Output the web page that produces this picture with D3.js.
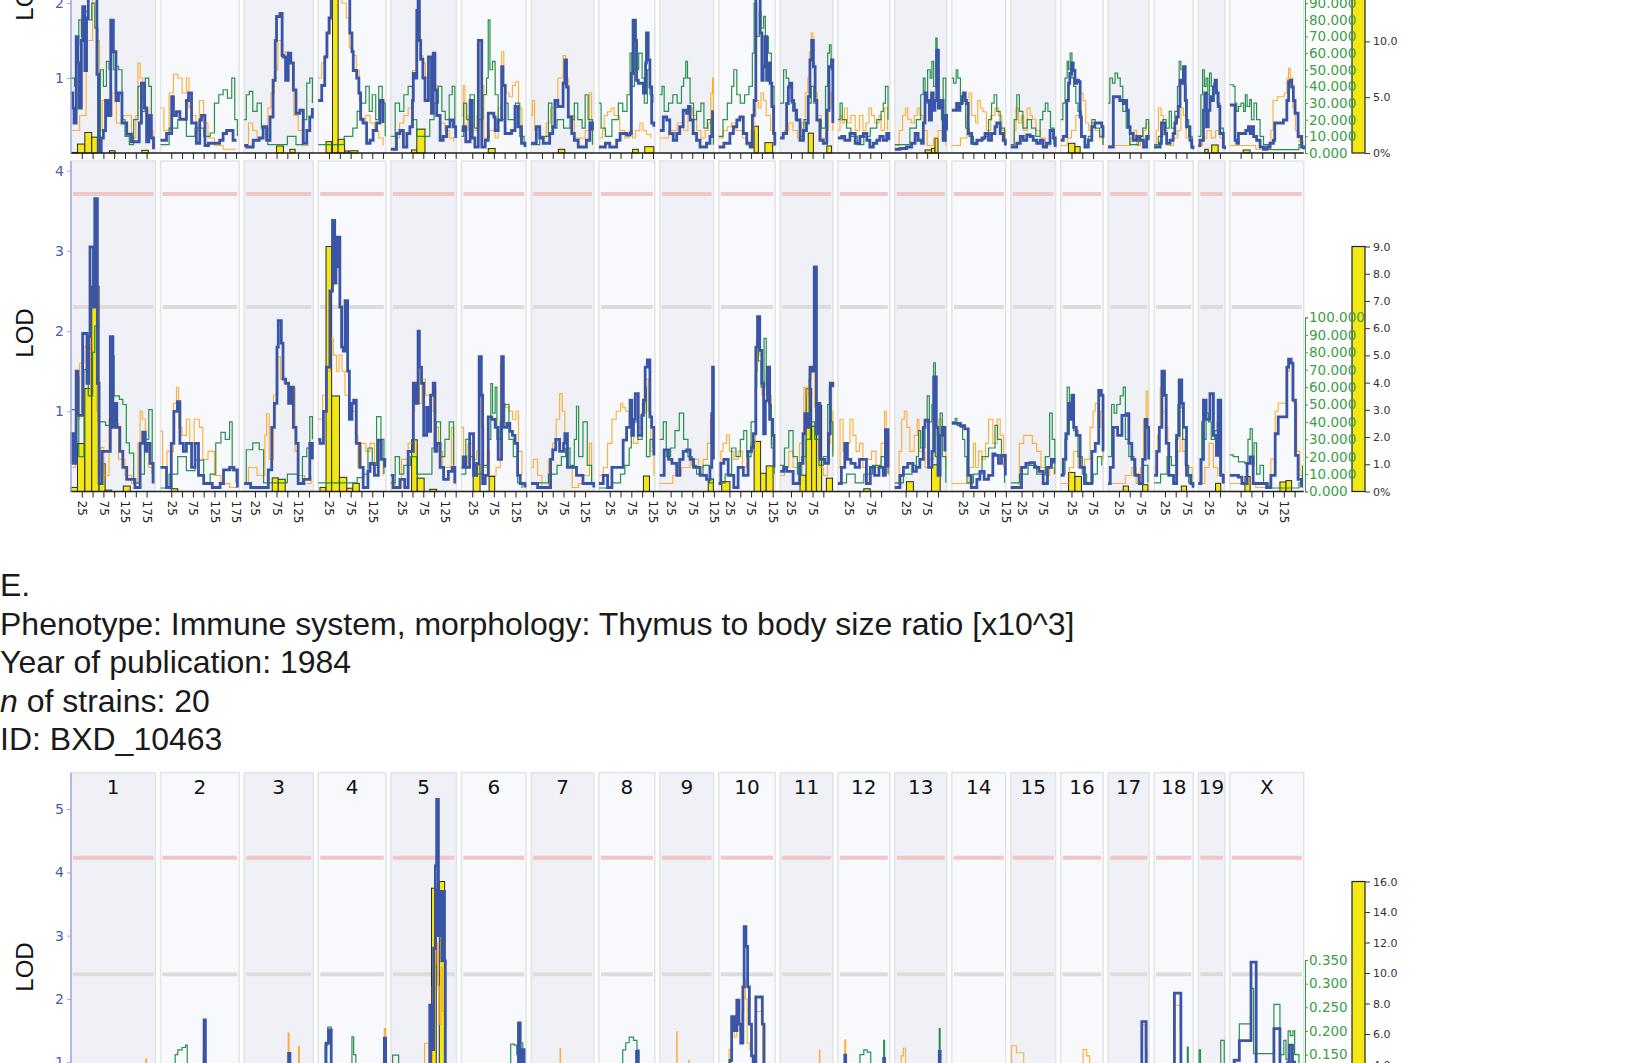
<!doctype html>
<html>
<head>
<meta charset="utf-8">
<script src="https://d3js.org/d3.v7.min.js"></script>
<style>
body { margin: 0; background: #fff; overflow: hidden; }
svg { display: block; }
</style>
</head>
<body>
<svg></svg>
<script>

const chromosomes = ["1","2","3","4","5","6","7","8","9","10","11","12","13","14","15","16","17","18","19","X"];
const chrLengths = [195.5,182.1,160.0,156.5,151.8,149.7,145.4,129.4,124.6,130.7,122.1,120.1,120.4,124.9,104.0,98.2,94.9,90.7,61.4,171.0];

const infoLines = [
	[["E.", false]],
	[["Phenotype: Immune system, morphology: Thymus to body size ratio [x10^3]", false]],
	[["Year of publication: 1984", false]],
	[["n", true], [" of strains: 20", false]],
	[["ID: BXD_10463", false]]
];

// ticks (the top panel is cut by the page edge, so only its visible ticks are listed)
const p1LodTicks = [1,2];
const p2LodTicks = [1,2,3,4];
const p3LodTicks = [1,2,3,4,5];
const p1GreenTicks = [0,10,20,30,40,50,60,70,80,90];
const p2GreenTicks = [0,10,20,30,40,50,60,70,80,90,100];
const p3GreenTicks = [0,0.05,0.1,0.15,0.2,0.25,0.3,0.35];
const p1BarTicks = [0,5,10];
const p2BarTicks = [0,1,2,3,4,5,6,7,8,9];
const p3BarTicks = [0,2,4,6,8,10,12,14,16];

// [significant, suggestive] LOD thresholds
const p1Thresholds = [3.6, 2.25];
const p2Thresholds = [3.71, 2.3];
const p3Thresholds = [4.23, 2.39];

// series: one flat list per chromosome, alternating Mb position and value
const p1Blue = [
	[0,0.8,4,0.6,7,0.4,12,1.55,16,1.2,19,0.6,24,1.5,27,1.95,32,1.1,36,1.8,40,2.3,50,2.4,56,2.2,60,1.05,64,0.02,70,0.2,75,0.3,80,0.7,86,0.5,92,1.77,98,1.35,104,0.7,110,0.8,118,0.4,129,0.25,140,0.15,152,0.15,158,0.4,163,0.93,170,0.6,175,0.15,180,0.5,186,0.2,191,0.05],
	[0,0.17,7,0.17,14,0.26,26,0.75,30,0.5,37,0.55,45,0.45,60,0.7,65,0.8,72,0.4,83,0.13,91,0.44,95,0.5,103,0.1,111,0.13,122,0.13,137,0.17,145,0.26,153,0.3,168,0.17,176,0.17],
	[0,0.1,6,0.08,21,0.17,35,0.2,44,0.35,52,0.17,60,0.48,67,0.97,72,1.5,75,1.82,83,1.86,88,1.3,91,1.28,96,0.97,102,1.33,108,1.2,114,0.84,120,0.53,129,0.57,137,0.13,145,0.3,152,0.48,158,0.6],
	[0,0.7,4,0.7,8,0.9,15,1.28,20,1.6,25,1.8,30,2.5,40,2.8,50,2.6,60,2.4,68,2.2,73,1.6,78,1.35,81,1.1,89,1.0,94,0.8,98,0.45,104,0.4,112,0.13,120,0.17,127,0.3,135,0.4,143,0.7,150,0.4],
	[0,0.05,6,0.05,13,0.26,21,0.3,29,0.08,37,0.26,44,0.35,50,0.7,52,1.06,56,1.0,60,1.9,63,2.1,66,1.5,69,1.25,74,1.0,79,0.7,87,1.28,94,0.53,98,1.33,102,0.84,106,0.5,114,0.17,121,0.22,129,0.35,137,0.44,145,0.35,150,0.2],
	[0,0.3,4,0.35,10,0.15,20,0.7,25,0.2,31,0.08,39,1.5,44,1.5,47,0.08,55,0.17,62,0.53,70,0.53,75,0.48,78,0.3,85,0.44,93,1.15,96,0.9,101,0.26,110,0.26,116,0.3,124,0.62,131,0.35,139,0.13,147,0.08],
	[0,0.13,5,0.13,12,0.35,20,0.2,28,0.13,43,0.26,50,0.35,55,0.7,62,0.62,67,0.62,74,0.93,78,1.24,82,0.88,86,0.48,94,0.26,100,0.17,109,0.08,120,0.08,128,0.17,136,0.4,142,0.3],
	[0,0.08,6,0.08,15,0.13,25,0.08,41,0.17,49,0.26,64,0.24,72,0.26,75,1.06,79,1.77,84,1.5,87,0.97,91,0.93,99,0.93,103,0.8,108,1.2,110,1.6,114,1.24,118,0.88,122,0.4,127,0.35],
	[0,0.3,8,0.48,16,0.44,23,0.26,31,0.17,39,0.26,46,0.35,54,0.57,62,0.53,66,0.62,70,0.44,77,0.26,85,0.17,93,0.08,108,0.13,116,0.22,122,0.57],
	[0,0.08,3,0.08,12,0.13,26,0.26,34,0.35,42,0.44,49,0.48,57,0.26,65,0.13,73,0.08,78,0.5,82,0.7,86,2.5,92,2.2,96,1.6,100,0.97,103,1.15,107,1.55,111,0.97,115,1.2,119,0.93,123,0.62,127,0.26,130,0.1],
	[0,0.2,7,0.26,15,0.66,19,0.88,23,0.93,27,0.7,31,0.57,38,0.44,46,0.17,54,0.3,61,0.4,65,0.75,69,1.24,73,1.5,77,1.15,81,0.7,85,0.44,92,0.17,100,0.13,108,0.57,113,1.15,119,1.24,122,0.4],
	[0,0.2,9,0.22,16,0.17,28,0.26,40,0.13,51,0.22,59,0.26,67,0.17,74,0.08,82,0.13,90,0.17,97,0.22,105,0.17,113,0.26,118,0.17],
	[0,0.05,12,0.06,27,0.08,39,0.13,47,0.26,54,0.17,62,0.13,66,0.4,70,0.8,74,0.7,80,0.44,85,0.8,89,0.57,93,0.7,97,1.37,101,0.6,105,0.7,112,0.17,117,0.5,120,0.3],
	[0,0.57,4,0.57,11,0.66,15,0.57,19,0.66,24,0.75,27,0.8,31,0.7,34,0.66,38,0.26,46,0.13,58,0.17,70,0.2,77,0.26,85,0.17,92,0.26,100,0.35,104,0.4,112,0.26,119,0.17,124,0.1],
	[0,0.08,6,0.08,14,0.13,22,0.22,29,0.17,37,0.24,45,0.22,52,0.17,60,0.13,68,0.17,75,0.08,83,0.13,91,0.3,99,0.2,103,0.08],
	[0,0.17,6,0.22,14,0.7,18,0.93,21,1.06,25,1.2,29,1.1,33,0.93,37,0.97,41,0.95,45,0.48,48,0.22,56,0.08,64,0.17,72,0.35,79,0.4,87,0.4,95,0.35,98,0.2],
	[0,0.08,4,0.08,12,0.75,20,0.75,27,0.7,35,0.66,39,0.7,43,0.57,47,0.35,51,0.26,58,0.17,66,0.22,74,0.17,82,0.08,89,0.22,93,0.17],
	[0,0.08,6,0.08,14,0.13,17,0.4,21,0.4,25,0.26,29,0.13,37,0.17,44,0.26,48,0.4,52,0.48,56,0.62,60,0.97,64,0.93,68,1.15,72,0.7,75,0.35,83,0.17,87,0.08,90,0.05],
	[0,0.1,4,0.17,12,0.57,15,0.8,19,0.35,23,0.57,27,0.75,31,0.7,35,0.88,39,0.97,42,0.8,46,0.62,50,0.26,58,0.08,61,0.05],
	[0,0.64,8,0.64,12,0.17,16,0.13,20,0.26,31,0.26,37,0.3,43,0.35,47,0.26,51,0.35,55,0.22,62,0.17,70,0.08,78,0.05,85,0.08,93,0.13,101,0.17,104,0.4,116,0.4,124,0.44,132,0.7,136,0.95,139,0.97,143,0.88,147,0.7,151,0.53,158,0.22,166,0.08,171,0.05]
];
const p1Orange = [
	[0,0.3,20,0.5,35,1.5,50,2.2,60,1.5,66,0.3,72,0.7,80,0.5,95,0.8,105,0.4,120,0.5,140,0.2,150,0.5,155,1.2,160,1.0,166,0.7,172,0.6,180,0.3,190,0.1],
	[0,0.6,8,0.3,20,0.8,30,1.05,40,1.0,50,0.8,60,1.0,66,0.6,74,0.5,82,0.3,90,0.7,100,0.4,110,0.2,125,0.1,145,0.05,175,0.05],
	[0,0.1,10,0.4,20,0.3,30,0.2,45,0.3,55,0.6,62,0.8,70,1.1,78,1.5,86,1.3,95,1.35,102,1.3,108,1.2,115,0.5,125,0.3,135,0.1,150,0.1],
	[0,1.0,8,1.2,15,1.3,22,1.6,28,2.1,40,2.3,55,2.0,65,1.8,72,1.4,80,1.3,88,1.1,95,0.7,100,0.4,110,0.5,120,0.4,130,0.3,140,0.2,150,0.1],
	[0,0.05,10,0.2,20,0.4,30,0.5,40,0.6,50,1.1,58,1.5,63,1.9,68,1.3,74,1.2,80,1.0,88,1.0,95,1.2,100,0.9,108,0.5,115,0.4,125,0.3,135,0.2,145,0.15],
	[0,0.5,4,0.9,8,0.3,15,0.5,25,0.3,36,0.5,40,1.5,46,0.9,52,0.2,65,0.3,78,0.2,85,0.6,93,1.35,98,0.9,104,0.8,110,0.75,118,0.9,125,0.95,132,0.6,140,0.2],
	[0,0.5,3,0.7,8,0.3,20,0.2,35,0.4,45,0.6,55,0.7,62,1.0,70,1.0,74,1.3,80,1.0,86,0.5,100,0.2,110,0.2,125,0.3,135,0.8,140,0.3],
	[0,0.2,8,0.3,12,0.5,20,0.55,28,0.6,35,0.5,48,0.3,60,0.2,70,0.3,78,0.2,85,0.3,95,0.4,102,0.3,110,0.25,120,0.2],
	[0,0.2,20,0.3,40,0.4,55,0.3,65,0.6,75,0.5,85,0.3,95,0.2,105,0.3,112,0.4,118,0.8,122,1.0,124,0.3],
	[0,0.2,10,0.3,20,0.35,30,0.4,40,0.3,55,0.2,65,0.1,75,0.3,82,0.5,86,0.7,92,0.6,98,0.8,104,0.7,110,0.5,120,0.3,128,0.1],
	[0,0.2,10,0.3,20,0.4,30,0.3,40,0.2,50,0.4,58,0.8,64,1.0,68,1.35,72,1.6,76,1.2,80,0.8,86,0.5,95,0.2,105,0.3,112,0.6,118,0.8,122,0.3],
	[0,0.3,5,0.5,10,0.4,15,0.6,22,0.4,30,0.5,40,0.3,50,0.5,58,0.3,65,0.4,72,0.6,78,0.5,85,0.4,95,0.5,100,0.3,108,0.6,115,0.3],
	[0,0.1,10,0.3,18,0.5,25,0.6,30,0.45,38,0.4,45,0.5,52,0.6,58,0.5,66,0.3,75,0.1,90,0.2,100,0.3,110,0.2,118,0.1],
	[0,0.1,20,0.2,35,0.5,40,0.8,46,0.5,55,0.4,60,0.7,66,0.6,72,0.55,80,0.3,90,0.5,100,0.6,108,0.5,116,0.3,124,0.1],
	[0,0.1,8,0.3,12,0.6,18,0.4,25,0.5,30,0.3,38,0.6,45,0.5,50,0.45,58,0.3,68,0.2,80,0.1,90,0.2,100,0.1],
	[0,0.1,15,0.2,25,0.3,35,0.5,45,0.8,52,0.7,58,0.4,65,0.3,72,0.4,80,0.3,90,0.2,98,0.1],
	[0,0.1,40,0.1,52,0.2,60,0.3,66,0.1,75,0.2,82,0.3,88,0.4,94,0.2],
	[0,0.1,5,0.3,10,0.6,16,0.5,22,0.3,30,0.1,45,0.2,55,0.3,62,0.6,68,0.5,74,0.2,85,0.1],
	[0,0.1,10,0.2,20,0.3,30,0.2,40,0.3,50,0.2,60,0.1],
	[0,0.1,40,0.1,60,0.05,85,0.05,95,0.3,100,0.7,110,0.75,118,0.75,126,0.8,132,1.0,136,1.13,140,1.0,146,0.6,152,0.3,160,0.15,170,0.05]
];
const p1Green = [
	[0,45,8,40,12,65,18,80,24,70,30,85,40,80,48,90,55,75,62,10,68,50,75,40,82,55,88,50,92,69,98,50,104,52,110,50,118,20,125,10,135,5,145,20,155,40,162,25,172,45,180,40,186,10],
	[0,5,20,15,40,20,60,10,80,15,100,10,115,12,125,30,135,35,145,38,155,33,165,45,172,20,178,10],
	[0,20,5,35,12,37,20,25,30,30,40,15,55,5,80,5,100,10,120,5,135,20,145,42,152,45,158,30],
	[0,5,30,5,60,10,80,15,90,25,100,30,110,40,118,25,125,35,133,20,140,40,148,30,155,10],
	[0,10,10,30,20,25,30,35,40,40,50,20,60,10,75,10,90,20,100,30,110,40,118,25,126,20,135,35,142,40,148,15],
	[0,10,5,30,12,20,20,35,30,15,40,20,50,35,58,45,62,80,66,50,72,55,78,35,85,20,92,20,100,30,108,20,116,20,125,30,135,10,145,5],
	[0,5,20,10,40,30,48,15,60,20,75,15,90,20,100,30,108,20,118,15,125,35,132,20,142,5],
	[0,30,5,15,15,10,30,20,45,30,55,25,65,35,72,60,76,40,82,80,86,50,92,60,100,45,105,30,112,50,118,35,125,30],
	[0,35,5,40,10,25,20,30,30,35,40,30,50,40,55,45,60,55,64,45,70,30,78,20,85,25,95,30,102,15,110,20,118,10,124,5],
	[0,10,10,20,20,30,30,40,35,50,42,35,50,30,60,35,70,40,78,60,82,90,88,70,94,85,98,75,104,82,108,70,115,60,122,40,128,20],
	[0,30,8,50,14,45,20,40,26,30,35,20,45,10,55,20,65,30,72,40,78,30,85,20,95,15,105,40,110,60,114,65,118,50,122,20],
	[0,20,5,30,10,20,20,15,30,10,45,5,60,10,75,15,90,20,100,25,105,30,110,40,116,20],
	[0,5,15,5,35,15,50,20,60,35,66,45,70,30,76,50,82,45,86,55,90,40,95,69,98,50,102,30,108,20,112,45,118,20],
	[0,45,4,42,10,50,14,45,20,30,26,35,32,15,40,10,50,5,60,8,75,10,85,20,92,30,98,35,104,25,112,15,122,5],
	[0,5,8,20,14,35,20,25,28,15,38,20,48,15,58,10,68,20,74,25,80,30,86,25,92,15,100,5],
	[0,20,5,30,10,45,15,55,18,50,22,60,26,45,30,40,35,30,40,25,48,10,56,5,64,10,72,20,80,15,90,10,98,5],
	[0,30,4,45,10,42,16,48,22,45,28,40,34,25,42,15,50,5,60,5,70,10,80,15,88,20,94,10],
	[0,5,10,10,20,20,28,15,35,25,40,15,48,25,54,40,58,55,62,50,66,45,70,40,74,20,80,10,88,5],
	[0,10,6,35,10,50,14,40,18,45,22,35,26,48,30,40,36,42,40,38,44,30,50,15,58,5],
	[0,41,8,40,12,30,16,25,20,28,26,30,32,25,36,35,40,28,46,32,50,20,56,30,62,20,70,10,78,5,90,2,160,5,168,10]
];
// bars: [chromosome, start Mb, end Mb, value]
const p1Bars = [
	["1",1,15,0.05],["1",15,32,0.8],["1",32,48,1.84],["1",48,61,1.42],["1",89,102,0.2],["1",164,179,0.24],
	["3",75,91,0.63],["3",106,118,0.33],
	["4",18,31,1.02],["4",33,46,16],["4",46,61,1.23],["4",61,70,0.18],["4",73,92,0.2],
	["5",48,60,0.27],["5",60,79,2.14],
	["6",62,78,0.4],["7",63,78,0.33],["8",78,91,0.33],["8",106,127,0.57],
	["10",82,92,2.4],["10",107,125,0.93],
	["11",65,77,1.78],["11",108,119,0.63],
	["13",70,85,0.27],["13",85,93,0.42],["13",93,100,1.33],
	["16",18,33,0.87],["16",33,45,0.57],
	["19",15,23,0.33],["19",31,46,0.72],
	["X",31,47,0.27]
];

const p2Blue = [
	[0,0.35,1.5,0.72,8,0.35,12,1.5,16,0.95,27,1.97,37,1.35,41,1.93,44,3.05,52,2.3,55,3.65,61,1.35,65,0.1,72,0.5,80,0.5,91,1.93,97,0.8,102,1.1,106,0.8,113,0.5,120,0.3,129,0.15,148,0.05,160,0.6,166,0.74,172,0.5,176,0.6,183,0.35,190,0.1],
	[0,0.3,7,0.3,14,0.05,25,0.6,31,1.0,39,1.12,45,0.6,53,0.5,60,0.6,72,0.3,80,0.6,88,0.2,100,0.1,120,0.05,138,0.1,146,0.27,160,0.3,170,0.27,178,0.05],
	[0,0.1,15,0.05,50,0.05,56,0.27,64,0.8,70,1.1,76,1.8,79,2.13,86,1.85,90,1.4,96,1.35,103,1.1,108,1.3,114,0.8,120,0.6,125,0.1,138,0.15,152,0.6,158,0.4],
	[0,0.65,4,0.6,12,1.0,19,1.55,27,2.5,33,3.38,38,2.6,41,2.8,44,3.17,50,2.3,54,1.8,58,1.75,62,2.38,68,1.5,72,0.9,78,1.1,82,1.14,88,0.6,96,0.3,104,0.05,115,0.25,120,0.35,130,0.2,139,0.64,146,0.4,154,0.3],
	[0,0.2,5,0.05,21,0.15,32,0.05,40,0.5,48,0.5,52,1.35,58,1.1,63,2.0,66,1.55,71,1.35,76,0.7,83,1.05,88,0.75,92,1.2,98,1.35,102,0.5,106,0.6,114,0.3,122,0.15,133,0.25,142,0.3,148,0.1],
	[0,0.3,4,0.43,10,0.3,19,0.72,28,0.2,35,0.35,41,1.68,46,1.2,49,0.1,55,0.2,62,0.93,70,0.9,78,0.8,85,0.4,93,1.68,97,0.8,105,0.85,112,0.75,118,0.7,124,0.6,130,0.2,136,0.1,147,0.05],
	[0,0.1,15,0.05,30,0.05,45,0.4,50,0.52,57,0.65,66,0.5,75,0.6,78,0.72,84,0.3,95,0.3,105,0.2,120,0.1,135,0.1,145,0.05],
	[0,0.1,10,0.2,20,0.05,30,0.3,45,0.3,56,0.64,64,0.8,72,1.14,76,0.7,80,0.9,84,1.22,91,0.7,99,0.95,103,1.14,107,1.55,112,1.64,118,0.93,122,0.8,127,0.45],
	[0,0.2,10,0.52,20,0.4,28,0.35,39,0.2,46,0.4,54,0.5,62,0.52,70,0.4,78,0.3,93,0.2,108,0.15,116,0.3,120,0.97,122,1.55,124,0.4],
	[0,0.1,5,0.35,12,0.4,22,0.2,35,0.05,45,0.3,57,0.2,68,0.5,76,0.55,80,0.72,86,1.8,90,2.18,95,1.76,100,1.35,104,0.72,108,1.13,113,1.55,118,0.9,125,0.7,128,0.3],
	[0,0.25,8,0.3,15,0.25,30,0.1,45,0.35,53,0.72,57,0.97,63,0.8,69,1.55,73,1.5,79,2.8,84,0.72,88,1.1,92,0.4,104,0.35,112,0.72,116,1.35,122,1.3],
	[0,0.1,8,0.3,16,0.6,22,0.4,30,0.35,40,0.3,50,0.4,55,0.4,66,0.1,75,0.3,85,0.2,95,0.3,105,0.2,110,0.77,116,0.3],
	[0,0.05,12,0.2,20,0.3,30,0.35,42,0.25,50,0.3,58,0.4,66,0.8,70,0.89,78,0.3,86,0.5,90,1.43,96,0.8,100,0.2,105,0.7,110,0.8,116,0.5],
	[0,0.85,10,0.85,20,0.82,30,0.78,38,0.2,45,0.05,58,0.15,65,0.25,75,0.15,85,0.2,95,0.47,100,0.45,108,0.35,115,0.45,124,0.2],
	[0,0.05,15,0.05,25,0.3,35,0.35,45,0.36,55,0.3,65,0.25,75,0.1,85,0.3,94,0.4,100,0.35],
	[0,0.2,6,0.4,12,0.72,18,1.1,22,0.9,26,1.2,30,0.8,36,0.7,45,0.3,55,0.1,65,0.1,72,0.5,80,0.6,88,1.26,94,1.2,98,0.5],
	[0,0.1,5,0.3,12,0.8,22,0.7,32,0.95,42,0.97,48,0.6,55,0.4,62,0.2,72,0.1,80,0.4,86,0.9,90,0.8,94,0.4],
	[0,0.2,6,0.5,12,0.8,18,1.5,24,1.2,28,0.6,34,0.2,45,0.1,52,0.7,58,1.39,64,1.1,68,0.8,75,0.2,85,0.1,90,0.05],
	[0,0.1,6,0.4,12,1.14,18,0.9,27,1.22,35,0.7,42,0.45,46,1.14,52,0.2,58,0.1],
	[0,0.2,10,0.2,20,0.18,28,0.1,40,0.35,47,0.43,54,0.1,70,0.1,85,0.05,95,0.2,105,0.72,112,0.93,125,0.93,132,1.55,136,1.65,142,1.6,146,1.14,152,0.45,158,0.15,166,0.05]
];
const p2Orange = [
	[0,0.3,10,0.9,20,1.6,30,1.8,40,1.2,45,2.3,55,2.5,60,1.0,66,0.2,70,0.55,76,0.2,88,0.9,95,1.1,100,0.85,110,0.4,125,0.2,140,0.1,155,0.6,160,1.0,165,0.9,172,0.6,180,0.3,190,0.1],
	[0,0.75,5,0.3,15,0.5,30,1.1,37,1.3,42,0.8,50,0.7,60,0.9,68,0.6,78,0.9,90,0.8,98,0.4,110,0.5,125,0.2,140,0.1,160,0.05,178,0.05],
	[0,0.1,10,0.3,30,0.2,48,0.7,52,0.97,58,0.4,68,1.2,78,1.68,84,1.4,92,1.35,100,1.3,110,1.3,118,0.5,125,0.2,140,0.1,155,0.2],
	[0,0.9,10,1.2,20,1.5,28,1.9,35,1.7,42,1.5,48,1.7,55,1.5,62,1.2,70,1.1,80,1.0,86,0.7,92,0.3,100,0.6,110,0.5,120,0.6,130,0.3,140,0.4,150,0.2],
	[0,0.1,10,0.05,25,0.4,40,0.6,50,1.0,55,1.3,62,1.75,66,1.1,72,1.4,80,1.2,90,1.0,98,1.3,104,0.8,110,0.5,120,0.3,130,0.3,140,0.8,146,0.3],
	[0,0.8,5,0.3,15,0.6,25,0.4,35,0.5,41,1.6,46,0.8,52,0.3,60,0.5,65,0.2,80,0.3,90,1.6,95,1.1,102,1.05,110,1.0,118,0.9,126,1.0,132,0.5,140,0.2],
	[0,0.3,5,0.4,15,0.2,25,0.05,40,0.4,50,0.6,58,0.9,66,1.22,72,1.0,78,0.7,85,0.3,95,0.05,110,0.1,120,0.2,135,0.6,140,0.1],
	[0,0.2,10,0.3,20,0.6,30,0.9,40,1.0,50,1.1,55,1.05,62,1.0,70,0.8,80,0.6,90,0.8,100,1.1,108,1.4,114,1.0,120,0.5,127,0.2],
	[0,0.1,15,0.1,30,0.2,50,0.3,70,0.4,90,0.3,100,0.4,110,0.6,117,0.9,120,1.0,124,0.5],
	[0,0.2,5,0.5,10,0.6,18,0.7,25,0.5,35,0.4,45,0.5,55,0.3,65,0.5,75,0.6,85,1.5,90,1.9,95,1.7,100,1.2,105,1.2,110,1.5,115,1.2,122,0.6,128,0.2],
	[0,0.2,10,0.3,20,0.5,30,0.3,45,0.6,55,1.3,62,1.2,66,1.4,72,1.5,78,1.5,80,1.05,86,1.1,92,0.3,100,0.2,110,0.6,116,1.0,122,0.5],
	[0,0.3,5,0.9,12,0.5,20,0.6,28,0.9,35,0.7,42,0.5,50,0.6,58,0.3,66,0.4,78,0.5,88,0.3,100,0.6,108,1.0,112,0.7,118,0.2],
	[0,0.1,10,0.5,16,0.9,22,1.0,28,0.8,35,0.5,45,0.7,52,0.9,56,0.5,70,0.3,80,0.4,90,0.8,96,0.7,102,0.9,110,0.8,118,0.3],
	[0,0.1,30,0.1,40,0.3,50,0.6,55,0.3,62,0.5,70,0.4,78,0.6,85,0.9,95,0.6,105,0.9,112,0.7,120,0.3],
	[0,0.05,20,0.6,30,0.7,40,0.7,50,0.6,60,0.5,70,0.3,80,0.2,90,0.3,100,0.2],
	[0,0.1,20,0.3,30,0.5,40,0.3,55,0.4,68,0.8,75,1.0,80,1.1,86,0.8,92,1.0,98,0.4],
	[0,0.1,40,0.2,55,0.3,65,0.1,75,0.3,82,0.9,88,1.25,92,0.5],
	[0,0.3,8,0.7,14,1.3,18,1.0,26,0.8,32,0.2,45,0.2,55,0.5,60,1.0,66,0.5,75,0.3,88,0.1],
	[0,0.1,15,0.3,25,0.6,35,0.3,45,0.2,55,0.1],
	[0,0.1,40,0.1,60,0.05,80,0.05,95,0.4,105,1.0,112,1.1,125,1.1,132,1.5,138,1.6,148,1.1,155,0.5,162,0.2,168,0.05]
];
const p2Green = [
	[0,47,12,66,18,20,30,70,40,55,50,80,55,95,63,40,72,40,80,38,91,78,100,55,112,53,120,50,128,28,135,22,145,5,160,10,170,30,180,47,188,10],
	[0,2,20,10,40,20,60,12,80,18,100,5,115,10,128,28,140,34,150,30,160,40,166,12,175,5],
	[0,5,5,24,20,28,35,24,45,5,70,5,100,10,125,5,135,20,145,25,152,43,158,30],
	[0,5,40,5,90,8,105,10,115,25,125,15,135,43,145,30,152,10],
	[0,5,10,20,20,10,30,15,45,20,60,10,80,10,95,25,105,40,115,20,125,30,135,40,145,15],
	[0,10,10,30,20,20,30,10,50,15,62,30,68,62,72,45,78,60,82,30,90,40,100,50,110,30,120,20,130,5,140,2],
	[0,5,20,5,40,10,60,15,70,20,80,25,90,15,100,30,105,49,110,20,120,40,130,15,140,5],
	[0,2,30,5,50,10,60,15,70,25,75,35,80,40,90,30,100,45,106,60,110,20,118,30,125,25],
	[0,30,8,40,15,20,25,25,35,35,45,45,55,30,65,20,75,15,85,10,100,15,115,5,124,2],
	[0,5,15,10,30,25,40,20,50,30,58,35,65,20,75,40,85,60,88,88,92,75,98,60,105,88,110,60,116,50,122,25,128,10],
	[0,15,10,25,20,35,30,20,40,10,50,20,60,30,70,40,80,30,90,15,100,20,110,50,114,60,118,40,122,20],
	[0,5,20,10,40,5,60,10,80,15,100,20,110,30,116,10],
	[0,5,20,10,40,15,50,20,55,35,60,25,70,40,75,55,80,40,86,50,90,74,94,20,100,10,105,45,110,20,118,5],
	[0,40,8,42,12,38,20,37,25,30,30,20,35,5,50,10,70,20,85,25,100,38,106,30,115,20,122,5],
	[0,5,20,10,40,15,60,10,80,20,90,45,96,30,102,10],
	[0,10,10,30,15,60,20,45,25,55,30,35,40,20,50,10,60,5,75,10,85,20,95,15],
	[0,20,8,50,14,45,20,50,28,55,35,60,40,30,48,20,60,10,70,5,80,15,92,5],
	[0,5,15,10,30,20,40,15,50,30,55,50,58,55,62,48,66,30,72,15,80,5,90,2],
	[0,5,8,40,12,30,18,45,24,40,30,30,38,35,44,40,50,10,58,5],
	[0,21,8,20,20,17,35,16,42,30,47,36,52,15,56,28,62,10,70,15,78,5,90,2,160,5,168,15]
];
const p2Bars = [
	["1",0,15,0.15],["1",15,32,1.76],["1",32,48,3.78],["1",48,65,7.54],["1",65,79,1.02],["1",79,94,0.05],["1",121,137,0.2],
	["2",25,40,0.1],
	["3",65,79,0.5],["3",79,95,0.45],
	["4",4,18,0.15],["4",18,31,9.0],["4",31,49,3.51],["4",49,66,0.52],["4",66,80,0.12],["4",80,95,0.3],
	["5",48,61,1.9],["5",61,77,0.49],["5",90,106,0.08],
	["6",27,43,0.98],["6",64,77,0.55],
	["8",103,117,0.57],["9",112,124,0.46],
	["10",7,26,0.36],["10",82,97,1.84],["10",97,110,0.67],["10",110,126,0.94],
	["11",46,60,0.6],["11",60,73,3.78],["11",73,84,2.4],["11",84,96,3.16],["11",107,121,0.49],
	["12",60,75,0.1],
	["13",27,43,0.36],["13",85,105,0.98],
	["16",18,33,0.7],["16",33,48,0.55],
	["17",35,47,0.2],["17",80,92,0.25],
	["18",63,75,0.2],["19",40,52,0.3],
	["X",35,47,0.55],["X",116,130,0.35],["X",130,143,0.4]
];

const p3Blue = [
	[0,0.2,190,0.2],
	[0,0.2,98,0.5,101,1.67,104,0.3,180,0.2],
	[0,0.2,100,0.5,103,1.14,106,0.3,158,0.2],
	[0,0.3,14,0.8,18,1.3,24,1.51,30,0.4,150,0.5,153,1.38,156,0.3],
	[0,0.1,80,0.3,88,0.5,90,1.9,95,1.2,99,2.8,103,4.1,106,5.15,110,3.0,113,3.7,118,2.6,121,3.7,124,2.6,126,0.3,150,0.1],
	[0,0.1,125,0.3,130,0.9,132,1.62,136,0.8,140,1.2,145,0.3,149,0.1],
	[0,0.2,145,0.2],
	[0,0.2,84,0.6,87,1.17,91,0.4,129,0.2],
	[0,0.2,124,0.2],
	[0,0.1,20,0.3,26,1.03,30,1.72,36,1.5,42,1.98,47,1.6,51,1.3,56,2.19,59,3.14,63,2.83,67,2.19,71,1.6,76,1.1,80,0.9,86,2.03,101,1.6,105,0.5,110,0.2,130,0.1],
	[0,0.2,122,0.2],
	[0,0.2,14,0.6,16,1.11,18,0.4,104,0.5,106,1.06,108,0.3,120,0.2],
	[0,0.2,101,0.6,103,1.17,105,0.4,120,0.2],
	[0,0.2,124,0.2],
	[0,0.2,104,0.2],
	[0,0.2,98,0.2],
	[0,0.2,74,0.6,78,1.64,88,0.5,90,0.2,94,0.2],
	[0,0.2,44,0.6,47,2.09,62,0.6,66,0.2,90,0.2],
	[0,0.2,61,0.2],
	[0,0.8,10,1.03,22,1.34,49,2.58,61,0.8,102,1.53,116,0.9,134,1.0,138,1.27,145,1.0,150,0.6,160,0.2,170,0.2]
];
const p3Orange = [
	[0,0.2,170,0.5,173,1.05,175,0.4,190,0.2],
	[0,0.2,96,0.6,99,1.17,102,0.3,180,0.2],
	[0,0.2,100,0.6,102,1.46,104,0.4,124,0.5,126,1.25,128,0.3,158,0.2],
	[0,0.2,150,0.5,153,1.53,156,0.3],
	[0,0.1,70,0.3,78,1.3,88,1.3,92,0.8,96,2.2,100,2.55,104,2.9,108,2.2,112,1.6,116,2.5,120,1.8,124,1.0,128,0.3,150,0.1],
	[0,0.2,148,0.2],
	[0,0.2,65,0.5,67,1.22,68,0.3,145,0.2],
	[0,0.2,129,0.2],
	[0,0.2,37,0.5,39,1.48,40,0.3,65,0.5,67,1.03,68,0.3,124,0.2],
	[0,0.1,20,0.5,24,1.2,30,1.5,36,1.4,42,1.5,48,1.6,54,1.8,58,2.3,62,2.0,66,1.3,72,1.2,78,0.9,84,1.8,98,1.8,102,0.9,108,0.3,130,0.1],
	[0,0.2,89,0.5,91,1.19,92,0.3,122,0.2],
	[0,0.2,14,0.6,16,1.35,18,0.3,120,0.2],
	[0,0.2,15,1.1,20,1.22,25,0.5,120,0.2],
	[0,0.2,124,0.2],
	[0,0.3,2,1.26,13,1.15,30,0.4,104,0.2],
	[0,0.2,52,1.2,60,1.1,67,0.3,98,0.2],
	[0,0.2,78,1.59,86,1.2,90,0.3,94,0.2],
	[0,0.2,46,1.5,48,1.9,60,1.5,63,0.4,90,0.2],
	[0,0.2,61,0.2],
	[0,0.3,170,0.3]
];
const p3Green = [
	[0,0.03,190,0.03],
	[0,0.03,34,0.15,40,0.16,50,0.165,58,0.17,62,0.05,180,0.03],
	[0,0.03,158,0.03],
	[0,0.05,16,0.17,22,0.208,30,0.06,78,0.1875,82,0.15,87,0.05,156,0.03],
	[0,0.05,4,0.149,18,0.06,150,0.03],
	[0,0.03,110,0.06,114,0.172,122,0.17,128,0.15,132,0.2,136,0.175,142,0.1,149,0.03],
	[0,0.03,145,0.03],
	[0,0.03,55,0.16,62,0.175,70,0.187,80,0.18,88,0.16,92,0.05,129,0.03],
	[0,0.03,124,0.03],
	[0,0.05,130,0.05],
	[0,0.03,122,0.03],
	[0,0.03,51,0.15,60,0.16,68,0.155,76,0.05,104,0.12,106,0.18,108,0.05,120,0.03],
	[0,0.03,101,0.12,103,0.205,105,0.05,120,0.03],
	[0,0.03,124,0.03],
	[0,0.03,104,0.03],
	[0,0.03,98,0.03],
	[0,0.03,94,0.03],
	[0,0.03,75,0.1,77,0.166,79,0.05,90,0.03],
	[0,0.05,2,0.16,5,0.05,50,0.12,52,0.18,60,0.05],
	[0,0.12,12,0.14,22,0.215,49,0.29,55,0.152,102,0.256,116,0.15,125,0.18,130,0.14,135,0.2,140,0.19,146,0.2,150,0.15,160,0.1,170,0.1]
];
const p3Bars = [
	["5",94,105,15.56],["5",112,124.5,16.0]
];

const svg = d3.select("svg").attr("width", 1643).attr("height", 1063);

const plotLeft = 71, plotRight = 1303.7, chrGap = 5;
const mbPx = (plotRight - plotLeft - chrGap * (chromosomes.length - 1)) / d3.sum(chrLengths);
const chrScales = [];
let cursor = plotLeft;
chrLengths.forEach(len => {
	chrScales.push(d3.scaleLinear().domain([0, len]).range([cursor, cursor + len * mbPx]));
	cursor += len * mbPx + chrGap;
});

function pairs(flat) {
	const out = [];
	for (let i = 0; i < flat.length; i += 2) out.push([flat[i], flat[i + 1]]);
	return out;
}

const panels = [
	{baseline: 153, top: -170, lodPx: 75, lodTicks: p1LodTicks, thresholds: p1Thresholds,
	 blue: p1Blue, orange: p1Orange, green: p1Green, bars: p1Bars,
	 greenMax: 100, greenHeight: 166.5, greenTicks: p1GreenTicks,
	 barMax: 22, barHeight: 245.5, barTicks: p1BarTicks, xLabels: false, header: false, labelY: -4},
	{baseline: 491.5, top: 161, lodPx: 80.2, lodTicks: p2LodTicks, thresholds: p2Thresholds,
	 blue: p2Blue, orange: p2Orange, green: p2Green, bars: p2Bars,
	 greenMax: 100, greenHeight: 174, greenTicks: p2GreenTicks,
	 barMax: 9, barHeight: 245, barTicks: p2BarTicks, xLabels: true, header: false, labelY: 333},
	{baseline: 1125.5, top: 772.7, lodPx: 63.3, lodTicks: p3LodTicks, thresholds: p3Thresholds,
	 blue: p3Blue, orange: p3Orange, green: p3Green, bars: p3Bars,
	 greenMax: 0.35, greenHeight: 165.5, greenTicks: p3GreenTicks,
	 barMax: 16, barHeight: 244, barTicks: p3BarTicks, xLabels: false, header: true, labelY: 967}
];

function drawPanel(p) {
	const g = svg.append("g");
	const lod = d3.scaleLinear().domain([0, 1]).range([p.baseline, p.baseline - p.lodPx]);
	const green = d3.scaleLinear().domain([0, p.greenMax]).range([p.baseline, p.baseline - p.greenHeight]);
	const bar = d3.scaleLinear().domain([0, p.barMax]).range([p.baseline, p.baseline - p.barHeight]);

	// chromosome boxes
	g.append("g").selectAll("rect").data(chromosomes).join("rect")
		.attr("x", (c, i) => chrScales[i].range()[0])
		.attr("y", p.top)
		.attr("width", (c, i) => chrScales[i].range()[1] - chrScales[i].range()[0])
		.attr("height", p.baseline - p.top)
		.attr("fill", (c, i) => i % 2 === 0 ? "#eff1f7" : "#f8f9fc")
		.attr("stroke", "#e2e3e6")
		.attr("stroke-width", 1.5);

	if (p.header) {
		g.append("g").selectAll("text").data(chromosomes).join("text")
			.attr("x", (c, i) => (chrScales[i].range()[0] + chrScales[i].range()[1]) / 2)
			.attr("y", p.top + 21)
			.attr("text-anchor", "middle")
			.attr("font-family", "DejaVu Sans, sans-serif")
			.attr("font-size", 20)
			.attr("fill", "#111")
			.text(c => c);
	}

	// significance lines
	const thrColors = ["#f0c6c6", "#dcdcdc"];
	p.thresholds.forEach((t, k) => {
		g.append("g").selectAll("line").data(chromosomes).join("line")
			.attr("x1", (c, i) => chrScales[i].range()[0] + 2)
			.attr("x2", (c, i) => chrScales[i].range()[1] - 2)
			.attr("y1", lod(t)).attr("y2", lod(t))
			.attr("stroke", thrColors[k])
			.attr("stroke-width", 4);
	});

	// yellow bars
	g.append("g").selectAll("rect").data(p.bars).join("rect")
		.attr("x", d => chrScales[chromosomes.indexOf(d[0])](d[1]))
		.attr("width", d => chrScales[chromosomes.indexOf(d[0])](d[2]) - chrScales[chromosomes.indexOf(d[0])](d[1]))
		.attr("y", d => bar(d[3]))
		.attr("height", d => p.baseline - bar(d[3]))
		.attr("fill", "#f3e816")
		.attr("stroke", "#2a2a2a")
		.attr("stroke-width", 1);

	const series = [
		[p.orange, lod, "#ffa41c", 1.1, 0.9],
		[p.green, green, "#13853a", 1.2, 0.9],
		[p.blue, lod, "#3a54a6", 2.8, 1]
	];
	series.forEach(([data, scale, color, width, opacity]) => {
		g.append("g").selectAll("path").data(data).join("path")
			.attr("d", (d, i) => d3.line()
				.x(v => chrScales[i](v[0]))
				.y(v => scale(v[1]))
				.curve(d3.curveStepAfter)(pairs(d)))
			.attr("fill", "none")
			.attr("stroke", color)
			.attr("stroke-width", width)
			.attr("stroke-opacity", opacity);
	});

	// x axis
	g.append("line")
		.attr("x1", plotLeft).attr("x2", plotRight)
		.attr("y1", p.baseline).attr("y2", p.baseline)
		.attr("stroke", "#222").attr("stroke-width", 1.5);
	chrScales.forEach((s, i) => {
		const ax = g.append("g")
			.attr("transform", `translate(0,${p.baseline})`)
			.call(d3.axisBottom(s)
				.tickValues(d3.range(25, chrLengths[i] + 1, 25))
				.tickSize(6).tickSizeOuter(0)
				.tickFormat(d => d % 50 === 25 ? d : ""));
		ax.select(".domain").remove();
		ax.selectAll(".tick line").attr("stroke", "#222");
		if (p.xLabels) {
			ax.selectAll(".tick text")
				.attr("y", 0).attr("x", 9).attr("dy", "0.35em")
				.attr("transform", "rotate(90)")
				.attr("text-anchor", "start")
				.attr("font-family", "DejaVu Sans, sans-serif")
				.attr("font-size", 12)
				.attr("fill", "#222");
		} else {
			ax.selectAll(".tick text").remove();
		}
	});

	// LOD axis
	g.append("line")
		.attr("x1", plotLeft).attr("x2", plotLeft)
		.attr("y1", Math.max(p.top, 0)).attr("y2", p.baseline)
		.attr("stroke", "#9eabdc").attr("stroke-width", 1.5);
	const ly = g.append("g")
		.attr("transform", `translate(${plotLeft},0)`)
		.call(d3.axisLeft(lod).tickValues(p.lodTicks).tickSize(4).tickSizeOuter(0)
			.tickFormat(d3.format("d")));
	ly.select(".domain").remove();
	ly.selectAll(".tick line").attr("stroke", "#9eabdc");
	ly.selectAll(".tick text")
		.attr("font-family", "DejaVu Sans, sans-serif")
		.attr("font-size", 14)
		.attr("fill", "#4b5cae");

	g.append("text")
		.attr("transform", `translate(33,${p.labelY}) rotate(-90)`)
		.attr("text-anchor", "middle")
		.attr("font-family", "Liberation Sans, Arial, sans-serif")
		.attr("font-size", 24)
		.attr("fill", "#111")
		.text("LOD");

	// yellow colour bar with its axis
	g.append("rect")
		.attr("x", 1352).attr("width", 13)
		.attr("y", bar(p.barMax)).attr("height", p.baseline - bar(p.barMax))
		.attr("fill", "#f3e816").attr("stroke", "#222").attr("stroke-width", 1.2);
	const by = g.append("g")
		.attr("transform", "translate(1365,0)")
		.call(d3.axisRight(bar).tickValues(p.barTicks).tickSize(5).tickSizeOuter(0)
			.tickFormat(d => d === 0 ? "0%" : d.toFixed(1)));
	by.select(".domain").remove();
	by.selectAll(".tick line").attr("stroke", "#333");
	by.selectAll(".tick text")
		.attr("x", 8)
		.attr("font-family", "DejaVu Sans, sans-serif")
		.attr("font-size", 11)
		.attr("fill", "#333");

	// green axis
	const gy = g.append("g")
		.attr("transform", "translate(1305,0)")
		.call(d3.axisRight(green).tickValues(p.greenTicks).tickSize(3).tickSizeOuter(3)
			.tickFormat(d3.format(".3f")));
	gy.select(".domain").attr("stroke", "#3a9e4a");
	gy.selectAll(".tick line").attr("stroke", "#3a9e4a");
	gy.selectAll(".tick text")
		.attr("x", 4)
		.attr("font-family", "DejaVu Sans, sans-serif")
		.attr("font-size", 13.5)
		.attr("fill", "#3a9e4a");
}

panels.forEach(drawPanel);

// description block
const info = svg.append("g")
	.attr("font-family", "Liberation Sans, Arial, sans-serif")
	.attr("font-size", 32)
	.attr("fill", "#1a1a1a");
infoLines.forEach((segments, i) => {
	const t = info.append("text").attr("x", 0).attr("y", 596 + i * 38.6);
	segments.forEach(([str, italic]) => {
		t.append("tspan").attr("font-style", italic ? "italic" : "normal").text(str);
	});
});

</script>
</body>
</html>
